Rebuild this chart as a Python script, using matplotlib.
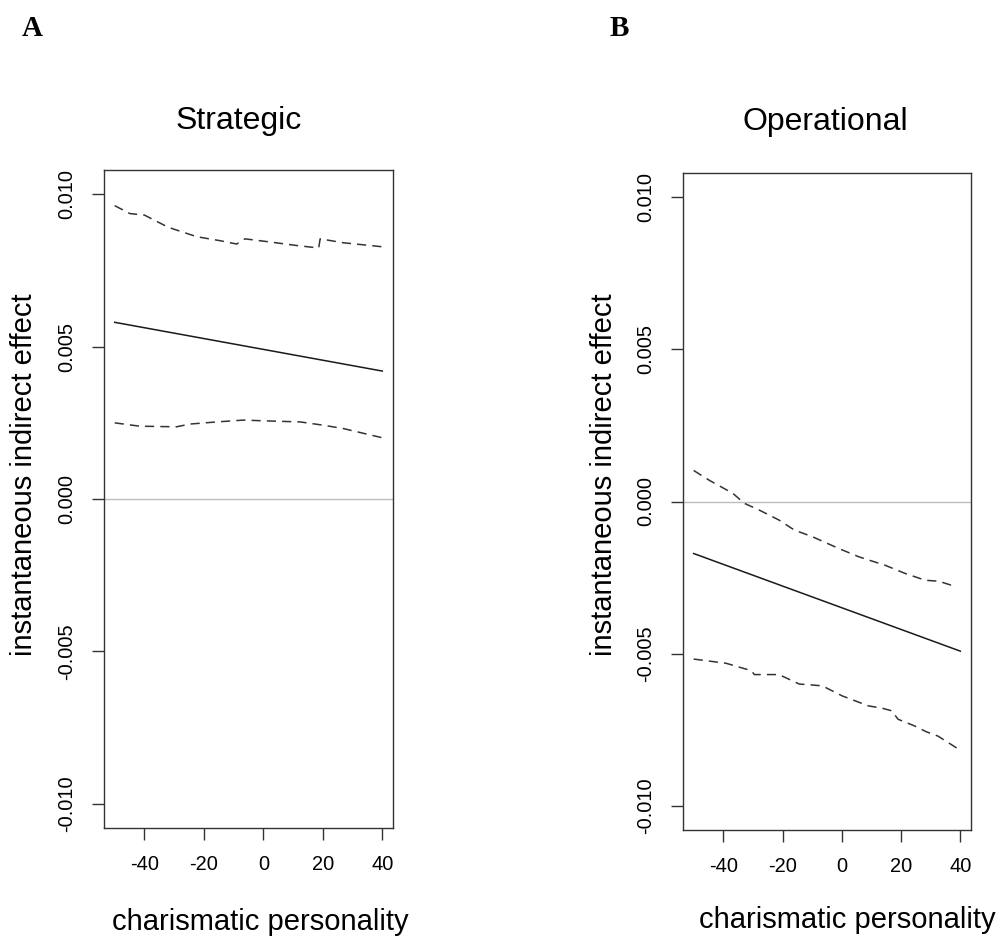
import matplotlib
matplotlib.use('Agg')
import matplotlib.pyplot as plt

plt.rcParams['font.family'] = ['Liberation Sans', 'DejaVu Sans']

#----------------  Data  -------------------------------------------

# Strategic (panel A)
a_est_x = [-50, 40]
a_est_y = [0.0058, 0.0042]
a_up_x = [-50, -44.9, -40, -32, -22.4, -14.6, -9, -6.2, 1.2, 11.3, 18.6, 19.1, 27, 40]
a_up_y = [0.00963, 0.00937, 0.00932, 0.00892, 0.00861, 0.00848, 0.00837, 0.00854,
          0.00845, 0.00832, 0.00824, 0.00854, 0.00841, 0.00828]
a_lo_x = [-50, -41.6, -29.2, -24.7, -15.7, -6.7, 2.3, 12.4, 20.3, 27, 40]
a_lo_y = [0.0025, 0.00239, 0.00237, 0.00246, 0.00253, 0.00259, 0.00256, 0.00253,
          0.00242, 0.00231, 0.00201]

# Operational (panel B)
b_est_x = [-50, 40]
b_est_y = [-0.00171, -0.00492]
b_up_x = [-50, -44.6, -36.8, -32.9, -27.9, -21.2, -16, -9.9, -0.9, 5.8, 14.7, 21.5, 28.2, 32.7, 38.8]
b_up_y = [0.00102, 0.00069, 0.00027, -0.00006, -0.00028, -0.00061, -0.00094, -0.00116,
          -0.00155, -0.00182, -0.0021, -0.00237, -0.00259, -0.00262, -0.00281]
b_lo_x = [-50, -39, -30.6, -29.5, -21.2, -14.4, -6.6, 0.1, 9, 13.4, 16.8, 19, 24.6, 28.5, 32.4, 40]
b_lo_y = [-0.00518, -0.00532, -0.00556, -0.00569, -0.00569, -0.006, -0.00606, -0.00639,
          -0.00672, -0.00679, -0.00688, -0.00716, -0.00738, -0.00757, -0.00771, -0.00818]

x_ticks = [-40, -20, 0, 20, 40]
y_ticks = [-0.010, -0.005, 0.000, 0.005, 0.010]
y_ticklabels = ['-0.010', '-0.005', '0.000', '0.005', '0.010']

W, H = 1001, 939
fig = plt.figure(figsize=(W / 100, H / 100), dpi=100)

def fx(px):
    return px / W

def fy(py):
    return 1 - py / H

def panel(box, est_x, est_y, up_x, up_y, lo_x, lo_y):
    left, top, right, bottom = box
    ax = fig.add_axes([fx(left), fy(bottom), (right - left) / W, (bottom - top) / H])
    ax.axhline(0, color='#bdbdbd', lw=1.0, zorder=1)
    ax.plot(est_x, est_y, color='#1a1a1a', lw=1.1, zorder=3)
    ax.plot(up_x, up_y, color='#333333', lw=1.1, ls=(0, (6, 4)), zorder=3)
    ax.plot(lo_x, lo_y, color='#333333', lw=1.1, ls=(0, (6, 4)), zorder=3)
    ax.set_xlim(-53.6, 43.6)
    ax.set_ylim(-0.0108, 0.0108)
    ax.set_xticks(x_ticks)
    ax.set_xticklabels([str(t) for t in x_ticks])
    ax.set_yticks(y_ticks)
    ax.set_yticklabels(y_ticklabels)
    ax.tick_params(axis='both', length=8.6, width=1.0, color='#333333', labelsize=14.4)
    ax.tick_params(axis='x', pad=11)
    ax.tick_params(axis='y', pad=11.5, labelrotation=90)
    for lab in ax.get_yticklabels():
        lab.set_va('center')
    for s in ax.spines.values():
        s.set_linewidth(1.0)
        s.set_color('#333333')
    return ax

panel((104, 170, 393, 828), a_est_x, a_est_y, a_up_x, a_up_y, a_lo_x, a_lo_y)
panel((683, 173, 971, 830), b_est_x, b_est_y, b_up_x, b_up_y, b_lo_x, b_lo_y)

# titles
fig.text(fx(239), fy(129), 'Strategic', ha='center', va='baseline', fontsize=23)
fig.text(fx(825), fy(130), 'Operational', ha='center', va='baseline', fontsize=23)

# axis labels
fig.text(fx(260), fy(930), 'charismatic personality', ha='center', va='baseline', fontsize=21)
fig.text(fx(847), fy(928), 'charismatic personality', ha='center', va='baseline', fontsize=21)
fig.text(fx(24), fy(475), 'instantaneous indirect effect', ha='center', va='center',
         rotation=90, fontsize=21)
fig.text(fx(604), fy(475), 'instantaneous indirect effect', ha='center', va='center',
         rotation=90, fontsize=21)

# panel letters
fig.text(fx(22), fy(36), 'A', ha='left', va='baseline', fontsize=21,
         fontweight='bold', family=['Liberation Serif', 'DejaVu Serif'])
fig.text(fx(610), fy(36), 'B', ha='left', va='baseline', fontsize=21,
         fontweight='bold', family=['Liberation Serif', 'DejaVu Serif'])

fig.savefig('out.png', dpi=100, facecolor='white')
